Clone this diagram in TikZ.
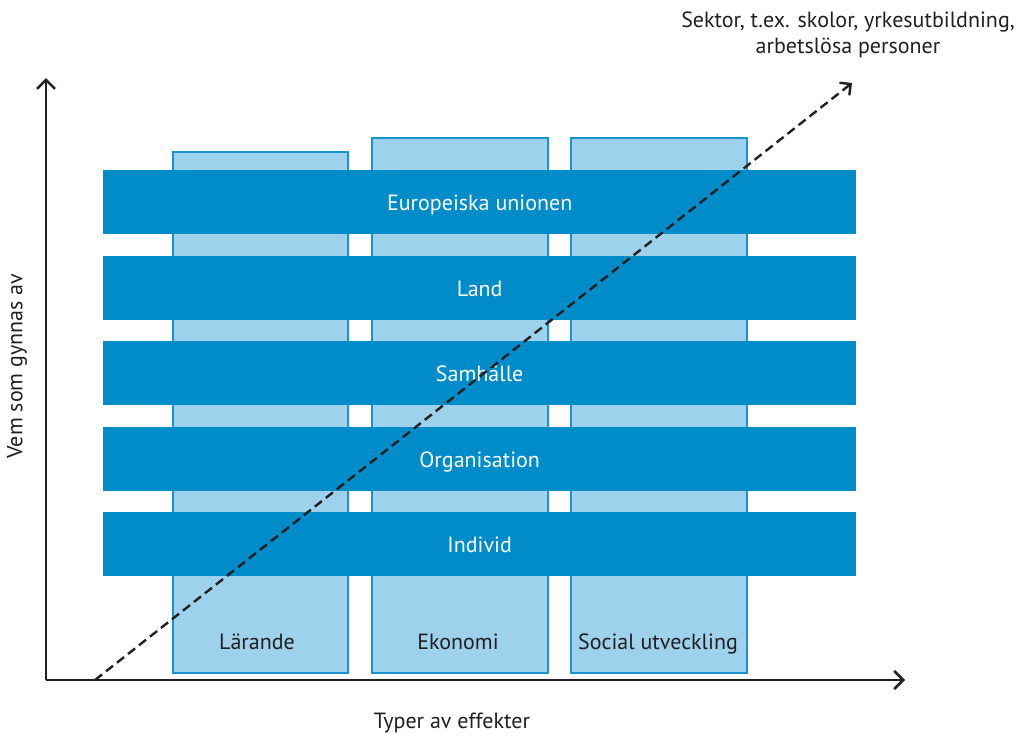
\documentclass[tikz,border=0pt]{standalone}
\usepackage{fontspec}
\setmainfont{PT Sans}
\usetikzlibrary{arrows.meta}
\definecolor{band}{HTML}{008CC9}
\definecolor{colfill}{HTML}{9DD1EC}
\definecolor{colline}{HTML}{1A93CF}
\definecolor{ink}{HTML}{231F20}
\tikzset{
  colbox/.style={draw=colline, line width=2.2pt, fill=colfill, anchor=north west, inner sep=0pt},
  bandbox/.style={fill=band, anchor=north west, minimum width=753pt, minimum height=64pt, inner sep=0pt},
  bandtext/.style={text=white, font=\fontsize{22}{26}\selectfont, anchor=base, yshift=-8pt},
  lbl/.style={text=ink, font=\fontsize{22}{26}\selectfont},
  axis/.style={draw=ink, line width=2.6pt, -{Straight Barb[length=9pt,width=18pt,line width=2.6pt]}},
  diag/.style={draw=ink, line width=2.4pt, dash pattern=on 9pt off 5pt, -{Straight Barb[length=8pt,width=16pt,line width=2.4pt]}}
}
\begin{document}
\begin{tikzpicture}[x=1pt,y=-1pt]
\useasboundingbox (0,0) rectangle (1018,736);
% columns
\node[colbox, minimum width=175pt, minimum height=521pt] (c1) at (172,151) {};
\node[colbox, minimum width=176pt, minimum height=535pt] (c2) at (371,137) {};
\node[colbox, minimum width=176pt, minimum height=535pt] (c3) at (570,137) {};
% bands
\node[bandbox] (b1) at (103,170) {};
\node[bandbox] (b2) at (103,256) {};
\node[bandbox] (b3) at (103,341) {};
\node[bandbox] (b4) at (103,427) {};
\node[bandbox] (b5) at (103,512) {};
\node[bandtext] (t1) at (b1.center) {Europeiska unionen};
\node[bandtext] (t2) at (b2.center) {Land};
\node[bandtext] (t3) at (b3.center) {Samhälle};
\node[bandtext] (t4) at (b4.center) {Organisation};
\node[bandtext] (t5) at (b5.center) {Individ};
% column labels
\node[lbl, anchor=base] (l1) at (257,649) {Lärande};
\node[lbl, anchor=base] (l2) at (458,649) {Ekonomi};
\node[lbl, anchor=base] (l3) at (658,649) {Social utveckling};
% axes
\coordinate (o) at (46,680);
\coordinate (ytop) at (46,78);
\coordinate (xend) at (905,680);
\draw[axis] (o) -- (ytop);
\draw[axis] (o) -- (xend);
\coordinate (ds) at (95,680);
\coordinate (de) at (852,83);
\draw[diag] (ds) -- (de);
% axis labels
\node[lbl, align=center] (sek) at (848,35) {Sektor, t.ex. skolor, yrkesutbildning,\\arbetslösa personer};
\node[lbl] (xl) at (452,723) {Typer av effekter};
\node[lbl, rotate=90] (yl) at (17,366) {Vem som gynnas av};
\end{tikzpicture}
\end{document}
